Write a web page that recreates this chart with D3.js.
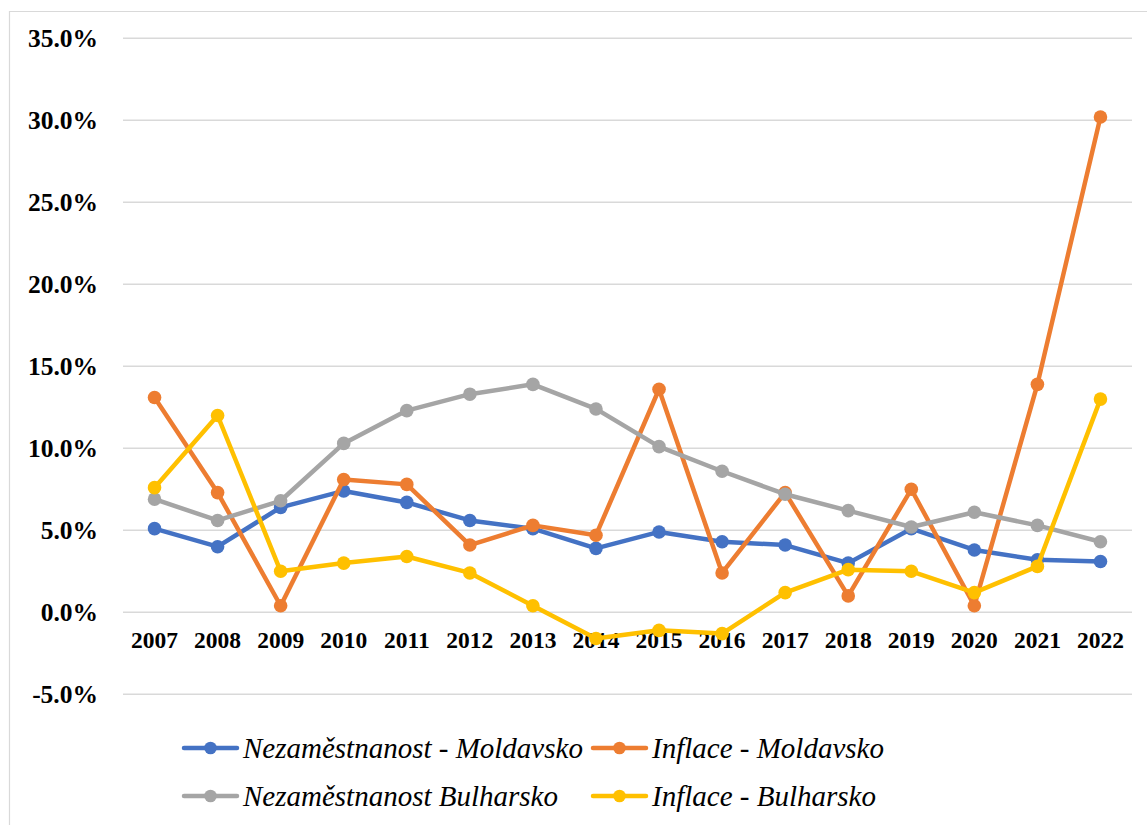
<!DOCTYPE html>
<html>
<head>
<meta charset="utf-8">
<script src="https://cdn.jsdelivr.net/npm/d3@7"></script>
<style>
  body { margin: 0; background: #fff; }
  svg { display: block; }
</style>
</head>
<body>
<script>
// Data
const years = ['2007','2008','2009','2010','2011','2012','2013','2014','2015','2016','2017','2018','2019','2020','2021','2022']
const nezamMoldavsko = [5.1, 4.0, 6.4, 7.4, 6.7, 5.6, 5.1, 3.9, 4.9, 4.3, 4.1, 3.0, 5.1, 3.8, 3.2, 3.1]
const inflaceMoldavsko = [13.1, 7.3, 0.4, 8.1, 7.8, 4.1, 5.3, 4.7, 13.6, 2.4, 7.3, 1.0, 7.5, 0.4, 13.9, 30.2]
const nezamBulharsko = [6.9, 5.6, 6.8, 10.3, 12.3, 13.3, 13.9, 12.4, 10.1, 8.6, 7.2, 6.2, 5.2, 6.1, 5.3, 4.3]
const inflaceBulharsko = [7.6, 12.0, 2.5, 3.0, 3.4, 2.4, 0.4, -1.6, -1.1, -1.3, 1.2, 2.6, 2.5, 1.2, 2.8, 13.0]
const yTicks = [-5, 0, 5, 10, 15, 20, 25, 30, 35]

const series = [
    { name: 'Nezaměstnanost - Moldavsko', values: nezamMoldavsko, color: '#4472C4' },
    { name: 'Inflace - Moldavsko', values: inflaceMoldavsko, color: '#ED7D31' },
    { name: 'Nezaměstnanost Bulharsko', values: nezamBulharsko, color: '#A5A5A5' },
    { name: 'Inflace - Bulharsko', values: inflaceBulharsko, color: '#FFC000' }
]

const W = 1147, H = 825
const font = 'Liberation Serif, Times New Roman, serif'

let svg = d3.select('body')
    .append('svg')
    .attr('width', W)
    .attr('height', H)

// chart border
svg.append('path')
    .attr('d', 'M9.5,825 V11.5 H1147')
    .attr('fill', 'none')
    .attr('stroke', '#d9d9d9')
    .attr('stroke-width', 1.2)

let x = d3.scaleBand()
    .domain(years)
    .range([123, 1132])
    .padding(0)

let y = d3.scaleLinear()
    .domain([-5, 35])
    .range([694.3, 38.3])

const cx = d => x(d) + x.bandwidth() / 2

// gridlines
svg.append('g')
    .selectAll('line')
    .data(yTicks)
    .enter()
    .append('line')
    .attr('x1', 123)
    .attr('x2', 1132)
    .attr('y1', d => y(d))
    .attr('y2', d => y(d))
    .attr('stroke', '#d9d9d9')
    .attr('stroke-width', 1.5)

// y labels (plain hyphen for the minus, like the original)
svg.append('g')
    .selectAll('text')
    .data(yTicks)
    .enter()
    .append('text')
    .attr('x', 98)
    .attr('y', d => y(d) + 9)
    .attr('text-anchor', 'end')
    .style('font-family', font)
    .style('font-weight', 'bold')
    .style('font-size', '25.5px')
    .text(d => d3.format('.1f')(d).replace('\u2212', '-') + '%')

// x labels
svg.append('g')
    .selectAll('text')
    .data(years)
    .enter()
    .append('text')
    .attr('x', d => cx(d))
    .attr('y', 648)
    .attr('text-anchor', 'middle')
    .style('font-family', font)
    .style('font-weight', 'bold')
    .style('font-size', '23.5px')
    .text(d => d)

// lines + markers
let line = d3.line()
    .x((d, i) => cx(years[i]))
    .y(d => y(d))

series.forEach(s => {
    let g = svg.append('g')
    g.append('path')
        .datum(s.values)
        .attr('d', line)
        .attr('fill', 'none')
        .attr('stroke', s.color)
        .attr('stroke-width', 4.5)
        .attr('stroke-linejoin', 'round')
        .attr('stroke-linecap', 'round')
    g.selectAll('circle')
        .data(s.values)
        .enter()
        .append('circle')
        .attr('cx', (d, i) => cx(years[i]))
        .attr('cy', d => y(d))
        .attr('r', 6.8)
        .attr('fill', s.color)
})

// legend
const legendPos = [[184, 748], [593, 748], [184, 796], [593, 796]]
series.forEach((s, i) => {
    let [lx, ly] = legendPos[i]
    let g = svg.append('g').attr('transform', `translate(${lx},${ly})`)
    g.append('line')
        .attr('x1', 0).attr('x2', 53)
        .attr('y1', 0).attr('y2', 0)
        .attr('stroke', s.color)
        .attr('stroke-width', 4.5)
        .attr('stroke-linecap', 'round')
    g.append('circle')
        .attr('cx', 26.5).attr('cy', 0)
        .attr('r', 6.3)
        .attr('fill', s.color)
    g.append('text')
        .attr('x', 59)
        .attr('y', 10)
        .style('font-family', font)
        .style('font-style', 'italic')
        .style('font-size', '29px')
        .text(s.name)
})
</script>
</body>
</html>
